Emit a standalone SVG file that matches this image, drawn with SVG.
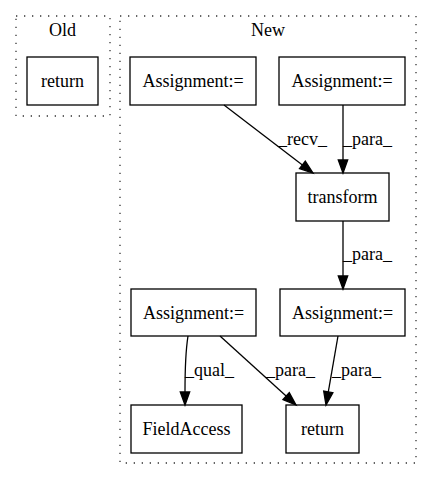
<svg xmlns="http://www.w3.org/2000/svg" width="432" height="480" viewBox="0 0 432 480">
<style>
text{font-family:"Liberation Serif","Times New Roman",serif;font-size:18px;fill:#000}
.n rect{fill:none;stroke:#000;stroke-width:1.3}
.c{fill:none;stroke:#333;stroke-width:1.3;stroke-dasharray:1.3,6.7}
.e path{fill:none;stroke:#000;stroke-width:1.3}
.e polygon{fill:#000;stroke:#000;stroke-width:1.3}
</style>
<rect width="432" height="480" fill="#fff"/>
<g id="cluster_old">
<rect class="c" x="16" y="16" width="94" height="100"/>
<text x="62.5" y="36" text-anchor="middle">Old</text>
</g>
<g id="cluster_new">
<rect class="c" x="120" y="16" width="296" height="447"/>
<text x="268" y="36" text-anchor="middle">New</text>
</g>
<g id="old_return" class="n"><rect x="27" y="57" width="71" height="48"/><text x="62.5" y="87" text-anchor="middle">return</text></g>
<g id="assign1" class="n"><rect x="130" y="57" width="126" height="48"/><text x="193" y="87" text-anchor="middle">Assignment:=</text></g>
<g id="assign2" class="n"><rect x="279" y="57" width="126" height="48"/><text x="342" y="87" text-anchor="middle">Assignment:=</text></g>
<g id="transform" class="n"><rect x="296" y="173" width="93" height="48"/><text x="342.5" y="203" text-anchor="middle">transform</text></g>
<g id="assign3" class="n"><rect x="131" y="289" width="125" height="47"/><text x="193.5" y="318.5" text-anchor="middle">Assignment:=</text></g>
<g id="assign4" class="n"><rect x="280" y="289" width="125" height="47"/><text x="342.5" y="318.5" text-anchor="middle">Assignment:=</text></g>
<g id="fieldaccess" class="n"><rect x="131" y="405" width="111" height="48"/><text x="186.5" y="435" text-anchor="middle">FieldAccess</text></g>
<g id="new_return" class="n"><rect x="286" y="405" width="73" height="48"/><text x="322.5" y="435" text-anchor="middle">return</text></g>
<g id="edges" class="e">
<path d="M224,105 L302.4,164.9"/><polygon points="299.5,168.6 313,173 305.3,161.2"/>
<text x="278" y="145">_recv_</text>
<path d="M343,105 L343,160"/><polygon points="338.3,160 343,173 347.7,160"/>
<text x="343" y="145">_para_</text>
<path d="M343,221 L343,276"/><polygon points="338.3,276 343,289 347.7,276"/>
<text x="343" y="260">_para_</text>
<path d="M188,336 C185,355 185,372 185,392"/><polygon points="180.3,392 185,405 189.7,392"/>
<text x="185" y="376">_qual_</text>
<path d="M220,336 L286.1,396.1"/><polygon points="283,399.6 296,405 289.3,392.6"/>
<text x="266" y="376">_para_</text>
<path d="M338,336 L328.3,391.9"/><polygon points="323.7,391.1 326,405 332.9,392.7"/>
<text x="332" y="376">_para_</text>
</g>
</svg>
